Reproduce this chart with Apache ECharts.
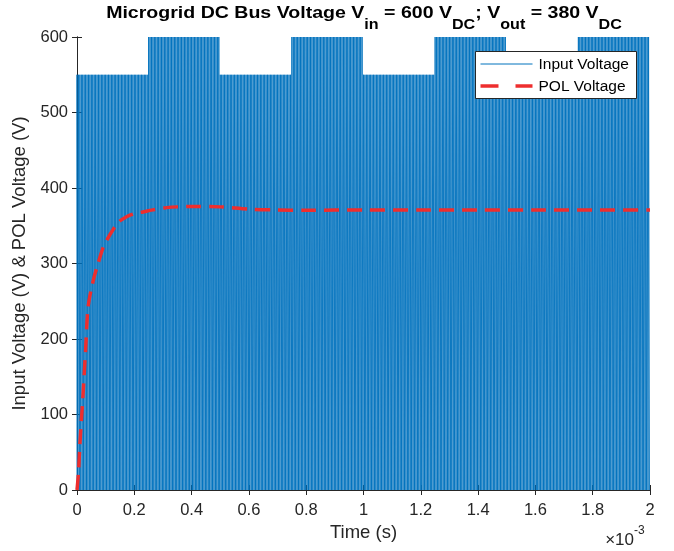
<!DOCTYPE html>
<html>
<head>
<meta charset="utf-8">
<script src="https://cdn.jsdelivr.net/npm/echarts@6/dist/echarts.min.js"></script>
<style>
  html, body { margin: 0; padding: 0; background: #fff; }
  #chart { width: 674px; height: 551px; }
</style>
</head>
<body>
<div id="chart"></div>
<script>
// Time is expressed in milliseconds; the axis carries a ×10^-3 s multiplier.
const xTicks = [0, 0.2, 0.4, 0.6, 0.8, 1, 1.2, 1.4, 1.6, 1.8, 2];
const yTicks = [0, 100, 200, 300, 400, 500, 600];

// Input bus: switched pulses whose amplitude alternates every 0.25 ms window
const segmentStart = [0, 0.25, 0.5, 0.75, 1.0, 1.25, 1.5, 1.75];
const segmentEnd   = [0.25, 0.5, 0.75, 1.0, 1.25, 1.5, 1.75, 2.0];
const segmentLevel = [550, 600, 550, 600, 550, 600, 550, 600];
const switchPeriod = 0.005;   // ms  (200 kHz carrier)
const dutyCycle = 0.62;

// Point-of-load output voltage (dashed trace)
const polTime = [0, 0.005, 0.01, 0.02, 0.03, 0.039, 0.057, 0.075, 0.092, 0.11, 0.143, 0.173, 0.2, 0.226, 0.265, 0.313, 0.35, 0.405, 0.5, 0.6, 0.7, 0.8, 1.0, 1.2, 1.4, 1.6, 1.8, 2.0];
const polVolt = [0, 22, 60, 120, 185, 243, 278, 302, 322, 335, 354, 362, 366, 368, 371, 374, 375, 375.5, 375, 372, 371, 370.5, 371, 371, 371, 371, 371, 371];

const legendNames = ['Input Voltage', 'POL Voltage'];
const titleText = '{t|Microgrid DC Bus Voltage V}{s|in}{t| = 600 V}{s|DC}{t|; V}{s|out}{t| = 380 V}{s|DC}';

// Build the switched waveform as explicit edges
const inputData = [];
for (let s = 0; s < segmentStart.length; s++) {
  const L = segmentLevel[s];
  const n = Math.round((segmentEnd[s] - segmentStart[s]) / switchPeriod);
  for (let k = 0; k < n; k++) {
    const t0 = segmentStart[s] + k * switchPeriod;
    const t1 = t0 + dutyCycle * switchPeriod;
    inputData.push([t0, 0], [t0, L], [t1, L], [t1, 0]);
  }
}
const polData = polTime.map((t, i) => [t, polVolt[i]]);

const axisColor = '#262626';
const blue = '#0072BD';
const red = '#EE2E2E';
const font = 'Liberation Sans, Arial, Helvetica, sans-serif';

const chart = echarts.init(document.getElementById('chart'), null, { renderer: 'canvas' });
chart.setOption({
  animation: false,
  backgroundColor: '#fff',
  grid: { left: 77, right: 24, top: 37, bottom: 61, containLabel: false },
  xAxis: [
    {
      type: 'value', min: 0, max: 2, interval: 0.2,
      name: 'Time (s)', nameLocation: 'middle', nameGap: 33,
      nameTextStyle: { fontFamily: font, fontSize: 18.5, color: axisColor },
      axisLine: { lineStyle: { color: axisColor, width: 1 } },
      axisTick: { inside: true, length: 5, lineStyle: { color: axisColor } },
      axisLabel: {
        fontFamily: font, fontSize: 16.5, color: axisColor, margin: 12,
        formatter: v => String(Math.round(v * 10) / 10)
      },
      splitLine: { show: false }
    },
    {
      type: 'value', min: 0, max: 2, interval: 0.2, position: 'top',
      axisLine: { show: true, lineStyle: { color: axisColor, width: 1 } },
      axisTick: { inside: true, length: 5, lineStyle: { color: axisColor } },
      axisLabel: { show: false },
      splitLine: { show: false }
    }
  ],
  yAxis: [
    {
      type: 'value', min: 0, max: 600, interval: 100,
      name: 'Input Voltage (V) & POL Voltage (V)', nameLocation: 'middle', nameGap: 44,
      nameTextStyle: { fontFamily: font, fontSize: 18.5, color: axisColor },
      axisLine: { show: true, lineStyle: { color: axisColor, width: 1 } },
      axisTick: { show: true, inside: true, length: 5, lineStyle: { color: axisColor } },
      axisLabel: { fontFamily: font, fontSize: 16.5, color: axisColor, margin: 9 },
      splitLine: { show: false }
    },
    {
      type: 'value', min: 0, max: 600, interval: 100, position: 'right',
      axisLine: { show: true, lineStyle: { color: axisColor, width: 1 } },
      axisTick: { show: true, inside: true, length: 5, lineStyle: { color: axisColor } },
      axisLabel: { show: false },
      splitLine: { show: false }
    }
  ],
  graphic: [
    // title
    {
      type: 'text', x: 364, y: 4.5, z: 100, scaleX: 1.15,
      style: {
        text: titleText, align: 'center',
        rich: {
          t: { fontSize: 17, fontWeight: 'bold', fill: '#000', fontFamily: font, verticalAlign: 'top', lineHeight: 17 },
          s: { fontSize: 14, fontWeight: 'bold', fill: '#000', fontFamily: font, verticalAlign: 'bottom', lineHeight: 28 }
        }
      }
    },
    // axis multiplier
    {
      type: 'text', x: 634, y: 540, z: 100,
      style: { text: '×10', align: 'right', verticalAlign: 'middle', fontFamily: font, fontSize: 17, fill: axisColor }
    },
    {
      type: 'text', x: 634, y: 531, z: 100,
      style: { text: '-3', align: 'left', verticalAlign: 'middle', fontFamily: font, fontSize: 12, fill: axisColor }
    },
    // legend
    {
      type: 'group', left: 475, top: 51, z: 100,
      children: [
        { type: 'rect', z: 100, shape: { x: 0, y: 0, width: 161, height: 47 }, style: { fill: '#fff', stroke: axisColor, lineWidth: 1 } },
        { type: 'line', z: 101, shape: { x1: 5, y1: 12.5, x2: 57, y2: 12.5 }, style: { stroke: blue, lineWidth: 1 } },
        { type: 'line', z: 101, shape: { x1: 5, y1: 34.5, x2: 23, y2: 34.5 }, style: { stroke: red, lineWidth: 3.5 } },
        { type: 'line', z: 101, shape: { x1: 40, y1: 34.5, x2: 57, y2: 34.5 }, style: { stroke: red, lineWidth: 3.5 } },
        { type: 'text', z: 101, x: 63, y: 13, style: { text: legendNames[0], verticalAlign: 'middle', fontFamily: font, fontSize: 15.5, fill: '#000' } },
        { type: 'text', z: 101, x: 63, y: 35, style: { text: legendNames[1], verticalAlign: 'middle', fontFamily: font, fontSize: 15.5, fill: '#000' } }
      ]
    }
  ],
  series: [
    {
      name: legendNames[0],
      type: 'line',
      data: inputData,
      xAxisIndex: 0, yAxisIndex: 0,
      showSymbol: false, symbol: 'none',
      sampling: null,
      lineStyle: { color: blue, width: 0.9 },
      itemStyle: { color: blue },
      clip: true,
      z: 2
    },
    {
      name: legendNames[1],
      type: 'line',
      data: polData,
      xAxisIndex: 0, yAxisIndex: 0,
      showSymbol: false, symbol: 'none',
      smooth: 0.3,
      lineStyle: { color: red, width: 3.5, type: [15, 8] },
      itemStyle: { color: red },
      z: 3
    }
  ]
});
</script>
</body>
</html>
